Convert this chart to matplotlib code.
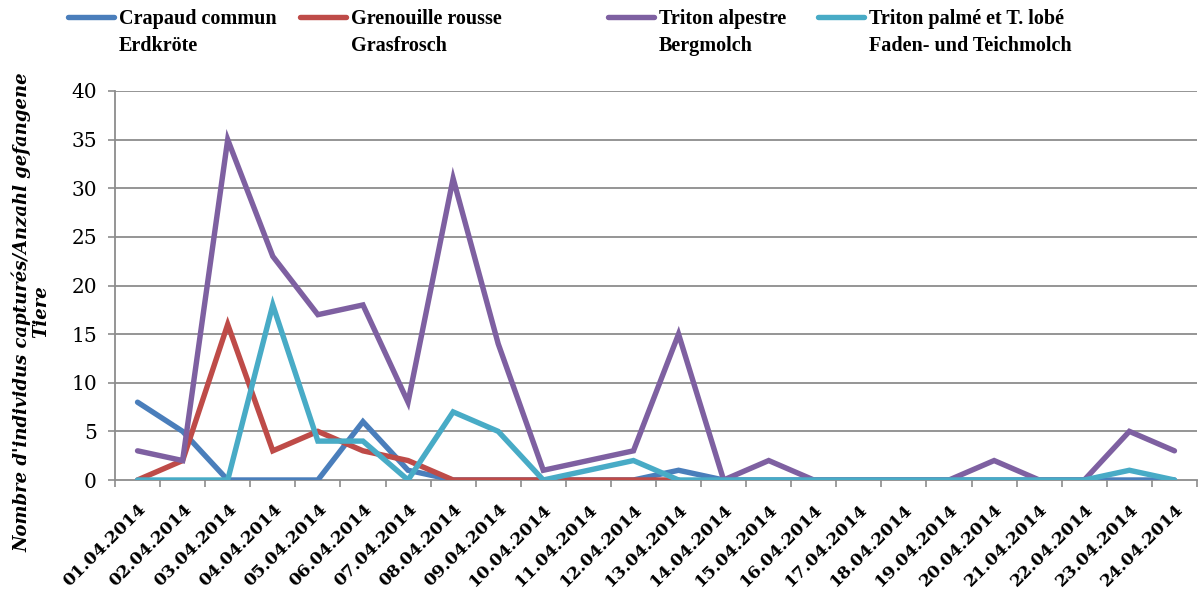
import numpy as np
import matplotlib.pyplot as plt
import matplotlib.transforms as mtransforms
from matplotlib.lines import Line2D

dates = ["01.04.2014", "02.04.2014", "03.04.2014", "04.04.2014", "05.04.2014",
         "06.04.2014", "07.04.2014", "08.04.2014", "09.04.2014", "10.04.2014",
         "11.04.2014", "12.04.2014", "13.04.2014", "14.04.2014", "15.04.2014",
         "16.04.2014", "17.04.2014", "18.04.2014", "19.04.2014", "20.04.2014",
         "21.04.2014", "22.04.2014", "23.04.2014", "24.04.2014"]

nan = float("nan")
crapaud = [8, 5, 0, 0, 0, 6, 1, 0, 0, 0, 0, 0, 1, 0, 0, 0, 0, 0, 0, 0, 0, 0, 0, 0]
grenouille = [0, 2, 16, 3, 5, 3, 2, 0, 0, 0, 0, 0, 0,
              nan, nan, nan, nan, nan, nan, nan, nan, nan, nan, nan]
triton_alp = [3, 2, 35, 23, 17, 18, 8, 31, 14, 1, 2, 3, 15, 0, 2, 0, 0, 0, 0, 2, 0, 0, 5, 3]
triton_palme = [0, 0, 0, 18, 4, 4, 0, 7, 5, 0, 1, 2, 0, 0, 0, 0, 0, 0, 0, 0, 0, 0, 1, 0]

series_labels = ["Crapaud commun\nErdkröte",
                 "Grenouille rousse\nGrasfrosch",
                 "Triton alpestre\nBergmolch",
                 "Triton palmé et T. lobé\nFaden- und Teichmolch"]
series_values = [crapaud, grenouille, triton_alp, triton_palme]
colors = ["#4A7EBB", "#BE4B48", "#7E60A1", "#48ABC6"]

yticks = [0, 5, 10, 15, 20, 25, 30, 35, 40]
ylabel = "Nombre d'individus capturés/Anzahl gefangene\nTiere"

SERIF_NUM = "DejaVu Serif"
SERIF_TXT = "Liberation Serif"
GRAY = "#8C8C8C"
LW = 3.9

W, H = 1201, 592
fig = plt.figure(figsize=(W / 100, H / 100), dpi=100)
ax = fig.add_axes([115 / W, (H - 480) / H, (1197 - 115) / W, (480 - 91) / H])

x = np.arange(len(dates))
for vals, col in zip(series_values, colors):
    ax.plot(x, vals, color=col, lw=LW, solid_capstyle="round",
            solid_joinstyle="miter", zorder=3)

ax.set_xlim(-0.5, len(dates) - 0.5)
ax.set_ylim(0, 40)
ax.set_yticks(yticks)
ax.set_yticklabels([str(v) for v in yticks], fontfamily=SERIF_NUM, fontsize=14.5)
for v in yticks[1:]:
    ax.axhline(v, color=GRAY, lw=1.3, zorder=1)

ax.set_xticks(x)
ax.set_xticklabels(dates, rotation=45, ha="right", va="top",
                   rotation_mode="anchor", fontfamily=SERIF_NUM,
                   fontweight="bold", fontsize=12.5)
shift = mtransforms.ScaledTranslation(-5 / 100, 0, fig.dpi_scale_trans)
for lbl in ax.get_xticklabels():
    lbl.set_transform(lbl.get_transform() + shift)
ax.set_xticks(np.arange(-0.5, len(dates)), minor=True)
ax.tick_params(axis="x", which="major", length=0, pad=15)
ax.tick_params(axis="x", which="minor", length=5, color=GRAY, width=1.2)
ax.tick_params(axis="y", length=5, color=GRAY, width=1.2, pad=8)

for side in ("top", "right"):
    ax.spines[side].set_visible(False)
for side in ("left", "bottom"):
    ax.spines[side].set_color(GRAY)
    ax.spines[side].set_linewidth(1.3)

fig.text(31 / W, 1 - 312 / H, ylabel, rotation=90, ha="center", va="center",
         fontfamily=SERIF_NUM, fontweight="bold", fontstyle="italic",
         fontsize=13, linespacing=1.05, multialignment="center")

# legend row across the top
handle_x = [68, 300, 608, 818]
for hx, lab, col in zip(handle_x, series_labels, colors):
    fig.add_artist(Line2D([hx / W, (hx + 46) / W], [1 - 17 / H, 1 - 17 / H],
                          color=col, lw=LW, solid_capstyle="round",
                          transform=fig.transFigure))
    fig.text((hx + 51) / W, 1 - 9 / H, lab, ha="left", va="top",
             fontfamily=SERIF_TXT, fontweight="bold", fontsize=14.5,
             linespacing=1.45)

fig.savefig("out.png", dpi=100)
